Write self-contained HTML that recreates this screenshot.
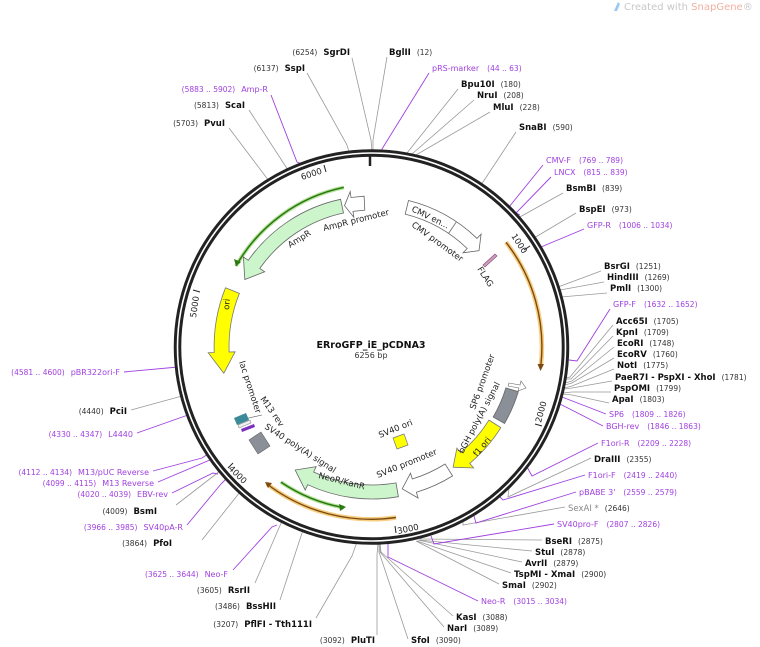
<!DOCTYPE html>
<html><head><meta charset="utf-8"><style>
html,body{margin:0;padding:0;background:#fff;}
svg{display:block;font-family:"DejaVu Sans","Liberation Sans",sans-serif;}
.b{font-weight:bold;fill:#111;font-size:8.5px}
.n{fill:#333;font-size:7.5px}
.p{fill:#a040e0;font-size:8px}
.pn{fill:#a040e0;font-size:7.5px}
.g{fill:#888;font-size:8.5px}
.f{fill:#222;font-size:8.5px}
.k{stroke:#999;stroke-width:0.8;fill:none}
.pl{stroke:#a040e0;stroke-width:0.9;fill:none}
</style></head><body>
<svg width="760" height="647" viewBox="0 0 760 647">
<path d="M614,11 L618,2 L620,4 L617,11 Z" fill="#9cc8f0"/>
<text x="624" y="10" font-size="10" fill="#c8c8c8">Created with <tspan fill="#f0b0a0">SnapGene</tspan>®</text>

<g class="k">
<path d="M352,58 L371,140 L372,151"/>
<path d="M387,57 L373,140 L373,151"/>
<path d="M307,73 L347,145 L349,152"/>
<path d="M458,89 L407,153"/>
<path d="M474,100 L412,154"/>
<path d="M490,112 L416,155"/>
<path d="M516,132 L481,185"/>
<path d="M563,193 L518,218"/>
<path d="M576,213 L534,238"/>
<path d="M601,271 L558,287"/>
<path d="M604,282 L560,290"/>
<path d="M607,293 L561,297"/>
<path d="M613,325 L570,377 L566,378"/>
<path d="M613,336 L571,379 L566,379"/>
<path d="M614,347 L572,381 L565,383"/>
<path d="M614,358 L572,383 L565,385"/>
<path d="M614,369 L572,386 L564,388"/>
<path d="M612,381 L572,388 L564,389"/>
<path d="M611,392 L572,392 L563,393"/>
<path d="M609,403 L572,395 L563,394"/>
<path d="M591,458 L508,497 L509,488"/>
<path d="M565,507 L463,525 L463,521"/>
<path d="M542,540 L420,539"/>
<path d="M532,551 L419,540"/>
<path d="M522,562 L418,540"/>
<path d="M511,573 L417,541"/>
<path d="M499,584 L416,541"/>
<path d="M453,616 L381,552 L380,543"/>
<path d="M444,627 L380,552 L380,543"/>
<path d="M408,639 L379,552 L379,543"/>
<path d="M249,110 L288,170"/>
<path d="M229,128 L269,181"/>
<path d="M131,410 L182,396"/>
<path d="M176,505 L220,471"/>
<path d="M202,540 L240,492"/>
<path d="M255,583 L282,521"/>
<path d="M280,600 L303,530"/>
<path d="M316,618 L352,556 L357,542"/>
<path d="M377,635 L377,555 L378,543"/>
</g>
<g class="pl">
<path d="M429,73 L382,149 L382,153"/>
<path d="M543,165 L509,207 L514,210"/>
<path d="M551,177 L516,213 L520,215"/>
<path d="M584,229 L541,247 L537,244"/>
<path d="M610,309 L577,361 L569,360"/>
<path d="M606,414 L562,397"/>
<path d="M603,426 L560,404"/>
<path d="M598,443 L532,476 L527,467"/>
<path d="M585,475 L503,500 L499,496"/>
<path d="M576,492 L476,523 L474,516"/>
<path d="M554,524 L434,544 L431,536"/>
<path d="M478,601 L388,557 L388,544"/>
<path d="M271,95 L297,162 L302,164"/>
<path d="M124,372 L178,367 L180,369"/>
<path d="M137,433 L188,415 L191,419"/>
<path d="M153,471 L202,458 L208,454 L210,458"/>
<path d="M158,482 L210,460 L213,460"/>
<path d="M172,493 L213,473 L218,474"/>
<path d="M187,525 L221,484 L226,479"/>
<path d="M233,570 L272,527 L277,525"/>
</g>

<circle cx="371.5" cy="347" r="194" fill="none" stroke="#222" stroke-width="7.5"/>
<circle cx="371.5" cy="347" r="194" fill="none" stroke="#fff" stroke-width="1.6"/>
<line x1="370" y1="155" x2="370" y2="166" stroke="#222" stroke-width="2.5"/>

<g stroke="#222" stroke-width="1">
<line x1="530" y1="246" x2="524" y2="250"/>
<line x1="542" y1="426" x2="535" y2="424"/>
<line x1="396" y1="533" x2="395" y2="526"/>
<line x1="228" y1="468" x2="233" y2="463"/>
<line x1="193" y1="290" x2="200" y2="292"/>
<line x1="324" y1="165" x2="326" y2="172"/>
</g>
<g font-size="8.5" fill="#222">
<text transform="translate(511,236) rotate(57)">1000</text>
<text transform="translate(541,423) rotate(-75)">2000</text>
<text transform="translate(398,534) rotate(-12)">3000</text>
<text transform="translate(228,469) rotate(45)">4000</text>
<text transform="translate(196,318) rotate(-82)">5000</text>
<text transform="translate(302,180) rotate(-18)">6000</text>
</g>

<path d="M343.8,187.4 A162 162 0 0 0 236,266" fill="none" stroke="#8cd060" stroke-width="4" opacity="0.6"/>
<path d="M343.8,187.4 A162 162 0 0 0 236,266" fill="none" stroke="#2a7a10" stroke-width="1.6"/>
<path d="M236,266 L234,259 L241,262 Z" fill="#2a7a10"/>
<path d="M340.6,199.3 A151 151 0 0 0 248.3,260.3 L243.4,256.9 L244.8,279.5 L264.7,271.8 L259.8,268.4 A137 137 0 0 1 343.5,213 Z" fill="#ccf5cc" stroke="#666" stroke-width="0.8"/>
<path d="M364.1,196.2 L351,197.5 L350.2,191.6 L344.5,205.6 L353.8,217.3 L353,211.3 L364.8,210.1 Z" fill="#fff" stroke="#666" stroke-width="0.8"/>
<text class="f" transform="translate(324,231) rotate(-14)">AmpR promoter</text>
<text class="f" transform="translate(290,248) rotate(-32)">AmpR</text>

<path d="M408.5,200.5 A151 151 0 0 1 477,238.4 L481.1,234.1 L479,250.7 L463,252.8 L467.2,248.5 A137 137 0 0 0 405.2,214.1 Z" fill="#fff" stroke="#666" stroke-width="0.8"/>
<line x1="456.4" y1="221.8" x2="448.6" y2="233.4" stroke="#666" stroke-width="0.8"/>
<text class="f" transform="translate(411,211) rotate(26)">CMV en...</text>
<text class="f" transform="translate(411,226) rotate(36)">CMV promoter</text>
<path d="M483,265 L495,254 L497,256 L485,267 Z" fill="#c9a0c0" stroke="#8a4070" stroke-width="0.6"/>
<text class="f" transform="translate(477,269) rotate(57)">FLAG</text>

<path d="M506,242.3 A170 170 0 0 1 540.8,366" fill="none" stroke="#f5c060" stroke-width="4.5" opacity="0.8"/>
<path d="M506,242.3 A170 170 0 0 1 540.8,366" fill="none" stroke="#7a4a10" stroke-width="1.4"/>
<path d="M537.5,364 L544,364 L540.5,371 Z" fill="#7a4a10"/>

<path d="M225.5,287.8 A158 158 0 0 0 214.2,352.5 L208.2,352.7 L223.8,373.2 L235.1,351.8 L229.1,352 A143 143 0 0 1 239.4,293.4 Z" fill="#ffff00" stroke="#777" stroke-width="0.8"/>
<text class="f" transform="translate(229,310) rotate(-85)">ori</text>

<text class="f" transform="translate(239,362) rotate(72)">lac promoter</text>
<text class="f" transform="translate(260,399) rotate(55)">M13 rev</text>
<line x1="240" y1="420" x2="262" y2="415" stroke="#555" stroke-width="0.6"/>
<path d="M234,418 L246,413 L249,420 L237,425 Z" fill="#3a8a9a"/>
<path d="M238,425 L250,420 L251,423 L239,428 Z" fill="#eee" stroke="#555" stroke-width="0.4"/>
<path d="M241,429 L254,424 L255,427 L242,432 Z" fill="#7a30c0"/>
<path d="M249,440 L261,432 L270,446 L258,454 Z" fill="#8a8f98" stroke="#666" stroke-width="0.6"/>
<text class="f" transform="translate(264,428) rotate(33)">SV40 poly(A) signal</text>

<path d="M280.9,482.1 A163 163 0 0 0 343.6,507.6" fill="none" stroke="#8cd060" stroke-width="4" opacity="0.6"/>
<path d="M280.9,482.1 A163 163 0 0 0 343.6,507.6" fill="none" stroke="#2a7a10" stroke-width="1.6"/>
<path d="M346,507 L339,504 L340,511 Z" fill="#2a7a10"/>
<path d="M396,517.5 A172 172 0 0 1 267,484" fill="none" stroke="#f5c060" stroke-width="4.5" opacity="0.8"/>
<path d="M396,517.5 A172 172 0 0 1 267,484" fill="none" stroke="#7a4a10" stroke-width="1.4"/>
<path d="M265,482 L272,483 L268,488 Z" fill="#7a4a10"/>

<path d="M398.4,496.7 A152 152 0 0 1 307.7,484.7 L305.2,490.1 L295.2,470 L316.2,466.6 L313.6,472 A138 138 0 0 0 396,482.9 Z" fill="#ccf5cc" stroke="#666" stroke-width="0.8"/>
<text class="f" transform="translate(318,478) rotate(14)">NeoR/KanR</text>

<path d="M452.6,475.9 A152 152 0 0 1 416.4,492.3 L418.1,498 L402.2,488.8 L410.5,473.2 L412.3,479 A138 138 0 0 0 445.1,464 Z" fill="#fff" stroke="#666" stroke-width="0.8"/>
<text class="f" transform="translate(378,478) rotate(-22)">SV40 promoter</text>

<path d="M500.9,427.6 A152 152 0 0 1 469.7,463.4 L473.6,468 L453.1,467.2 L456.9,448.1 L460.7,452.7 A138 138 0 0 0 489,420.1 Z" fill="#ffff00" stroke="#777" stroke-width="0.8"/>
<text class="f" transform="translate(477,457) rotate(-50)">f1 ori</text>

<path d="M518.3,391.7 A153 153 0 0 1 504.5,423.5 L493.2,417 A140 140 0 0 0 505.9,387.9 Z" fill="#8a8f98" stroke="#666" stroke-width="0.8"/>
<text class="f" transform="translate(463,454) rotate(-62)">bGH poly(A) signal</text>
<path d="M509,383 L520,385 L521,381 L526,388 L518,391 L519,388 L508,386 Z" fill="#fff" stroke="#666" stroke-width="0.6"/>
<text class="f" transform="translate(475,410) rotate(-70)">SP6 promoter</text>

<path d="M393,438 L404,434 L408,445 L397,449 Z" fill="#ffff00" stroke="#777" stroke-width="0.7"/>
<text class="f" transform="translate(380,438) rotate(-22)">SV40 ori</text>

<text x="371" y="348" text-anchor="middle" font-size="9.5" font-weight="bold" fill="#111">ERroGFP_iE_pCDNA3</text>
<text x="371" y="358" text-anchor="middle" font-size="8" fill="#333">6256 bp</text>

<text x="389" y="55"><tspan class="b">BglII</tspan><tspan class="n" dx="6">(12)</tspan></text>
<text x="432" y="71"><tspan class="p">pRS-marker</tspan><tspan class="pn" dx="8">(44 .. 63)</tspan></text>
<text x="461" y="87"><tspan class="b">Bpu10I</tspan><tspan class="n" dx="6">(180)</tspan></text>
<text x="477" y="98"><tspan class="b">NruI</tspan><tspan class="n" dx="6">(208)</tspan></text>
<text x="493" y="110"><tspan class="b">MluI</tspan><tspan class="n" dx="6">(228)</tspan></text>
<text x="519" y="130"><tspan class="b">SnaBI</tspan><tspan class="n" dx="6">(590)</tspan></text>
<text x="546" y="163"><tspan class="p">CMV-F</tspan><tspan class="pn" dx="8">(769 .. 789)</tspan></text>
<text x="554" y="175"><tspan class="p">LNCX</tspan><tspan class="pn" dx="8">(815 .. 839)</tspan></text>
<text x="566" y="191"><tspan class="b">BsmBI</tspan><tspan class="n" dx="6">(839)</tspan></text>
<text x="579" y="212"><tspan class="b">BspEI</tspan><tspan class="n" dx="6">(973)</tspan></text>
<text x="587" y="228"><tspan class="p">GFP-R</tspan><tspan class="pn" dx="8">(1006 .. 1034)</tspan></text>
<text x="604" y="269"><tspan class="b">BsrGI</tspan><tspan class="n" dx="6">(1251)</tspan></text>
<text x="607" y="280"><tspan class="b">HindIII</tspan><tspan class="n" dx="6">(1269)</tspan></text>
<text x="610" y="291"><tspan class="b">PmlI</tspan><tspan class="n" dx="6">(1300)</tspan></text>
<text x="613" y="307"><tspan class="p">GFP-F</tspan><tspan class="pn" dx="8">(1632 .. 1652)</tspan></text>
<text x="616" y="324"><tspan class="b">Acc65I</tspan><tspan class="n" dx="6">(1705)</tspan></text>
<text x="616" y="335"><tspan class="b">KpnI</tspan><tspan class="n" dx="6">(1709)</tspan></text>
<text x="617" y="346"><tspan class="b">EcoRI</tspan><tspan class="n" dx="6">(1748)</tspan></text>
<text x="617" y="357"><tspan class="b">EcoRV</tspan><tspan class="n" dx="6">(1760)</tspan></text>
<text x="617" y="368"><tspan class="b">NotI</tspan><tspan class="n" dx="6">(1775)</tspan></text>
<text x="615" y="380"><tspan class="b">PaeR7I</tspan><tspan class="b"> - PspXI</tspan><tspan class="b"> - XhoI</tspan><tspan class="n" dx="6">(1781)</tspan></text>
<text x="614" y="391"><tspan class="b">PspOMI</tspan><tspan class="n" dx="6">(1799)</tspan></text>
<text x="612" y="402"><tspan class="b">ApaI</tspan><tspan class="n" dx="6">(1803)</tspan></text>
<text x="609" y="417"><tspan class="p">SP6</tspan><tspan class="pn" dx="8">(1809 .. 1826)</tspan></text>
<text x="606" y="429"><tspan class="p">BGH-rev</tspan><tspan class="pn" dx="8">(1846 .. 1863)</tspan></text>
<text x="601" y="446"><tspan class="p">F1ori-R</tspan><tspan class="pn" dx="8">(2209 .. 2228)</tspan></text>
<text x="594" y="462"><tspan class="b">DraIII</tspan><tspan class="n" dx="6">(2355)</tspan></text>
<text x="588" y="478"><tspan class="p">F1ori-F</tspan><tspan class="pn" dx="8">(2419 .. 2440)</tspan></text>
<text x="579" y="495"><tspan class="p">pBABE 3'</tspan><tspan class="pn" dx="8">(2559 .. 2579)</tspan></text>
<text x="568" y="511"><tspan class="g">SexAI *</tspan><tspan class="n" dx="6">(2646)</tspan></text>
<text x="557" y="527"><tspan class="p">SV40pro-F</tspan><tspan class="pn" dx="8">(2807 .. 2826)</tspan></text>
<text x="545" y="544"><tspan class="b">BseRI</tspan><tspan class="n" dx="6">(2875)</tspan></text>
<text x="535" y="555"><tspan class="b">StuI</tspan><tspan class="n" dx="6">(2878)</tspan></text>
<text x="525" y="566"><tspan class="b">AvrII</tspan><tspan class="n" dx="6">(2879)</tspan></text>
<text x="514" y="577"><tspan class="b">TspMI</tspan><tspan class="b"> - XmaI</tspan><tspan class="n" dx="6">(2900)</tspan></text>
<text x="502" y="588"><tspan class="b">SmaI</tspan><tspan class="n" dx="6">(2902)</tspan></text>
<text x="481" y="604"><tspan class="p">Neo-R</tspan><tspan class="pn" dx="8">(3015 .. 3034)</tspan></text>
<text x="456" y="620"><tspan class="b">KasI</tspan><tspan class="n" dx="6">(3088)</tspan></text>
<text x="447" y="631"><tspan class="b">NarI</tspan><tspan class="n" dx="6">(3089)</tspan></text>
<text x="411" y="643"><tspan class="b">SfoI</tspan><tspan class="n" dx="6">(3090)</tspan></text>

<g text-anchor="end">
<text x="350" y="55"><tspan class="n">(6254)</tspan><tspan class="b" dx="6">SgrDI</tspan></text>
<text x="305" y="71"><tspan class="n">(6137)</tspan><tspan class="b" dx="6">SspI</tspan></text>
<text x="268" y="92"><tspan class="pn">(5883 .. 5902)</tspan><tspan class="p" dx="6">Amp-R</tspan></text>
<text x="245" y="108"><tspan class="n">(5813)</tspan><tspan class="b" dx="6">ScaI</tspan></text>
<text x="225" y="126"><tspan class="n">(5703)</tspan><tspan class="b" dx="6">PvuI</tspan></text>
<text x="120" y="375"><tspan class="pn">(4581 .. 4600)</tspan><tspan class="p" dx="6">pBR322ori-F</tspan></text>
<text x="127" y="414"><tspan class="n">(4440)</tspan><tspan class="b" dx="6">PciI</tspan></text>
<text x="133" y="437"><tspan class="pn">(4330 .. 4347)</tspan><tspan class="p" dx="6">L4440</tspan></text>
<text x="149" y="475"><tspan class="pn">(4112 .. 4134)</tspan><tspan class="p" dx="6">M13/pUC Reverse</tspan></text>
<text x="154" y="486"><tspan class="pn">(4099 .. 4115)</tspan><tspan class="p" dx="6">M13 Reverse</tspan></text>
<text x="168" y="497"><tspan class="pn">(4020 .. 4039)</tspan><tspan class="p" dx="6">EBV-rev</tspan></text>
<text x="157" y="514"><tspan class="n">(4009)</tspan><tspan class="b" dx="6">BsmI</tspan></text>
<text x="183" y="530"><tspan class="pn">(3966 .. 3985)</tspan><tspan class="p" dx="6">SV40pA-R</tspan></text>
<text x="172" y="546"><tspan class="n">(3864)</tspan><tspan class="b" dx="6">PfoI</tspan></text>
<text x="228" y="577"><tspan class="pn">(3625 .. 3644)</tspan><tspan class="p" dx="6">Neo-F</tspan></text>
<text x="250" y="593"><tspan class="n">(3605)</tspan><tspan class="b" dx="6">RsrII</tspan></text>
<text x="276" y="609"><tspan class="n">(3486)</tspan><tspan class="b" dx="6">BssHII</tspan></text>
<text x="312" y="627"><tspan class="n">(3207)</tspan><tspan class="b" dx="6">PflFI</tspan><tspan class="b"> - Tth111I</tspan></text>
<text x="375" y="643"><tspan class="n">(3092)</tspan><tspan class="b" dx="6">PluTI</tspan></text>
</g>
</svg>
</body></html>
